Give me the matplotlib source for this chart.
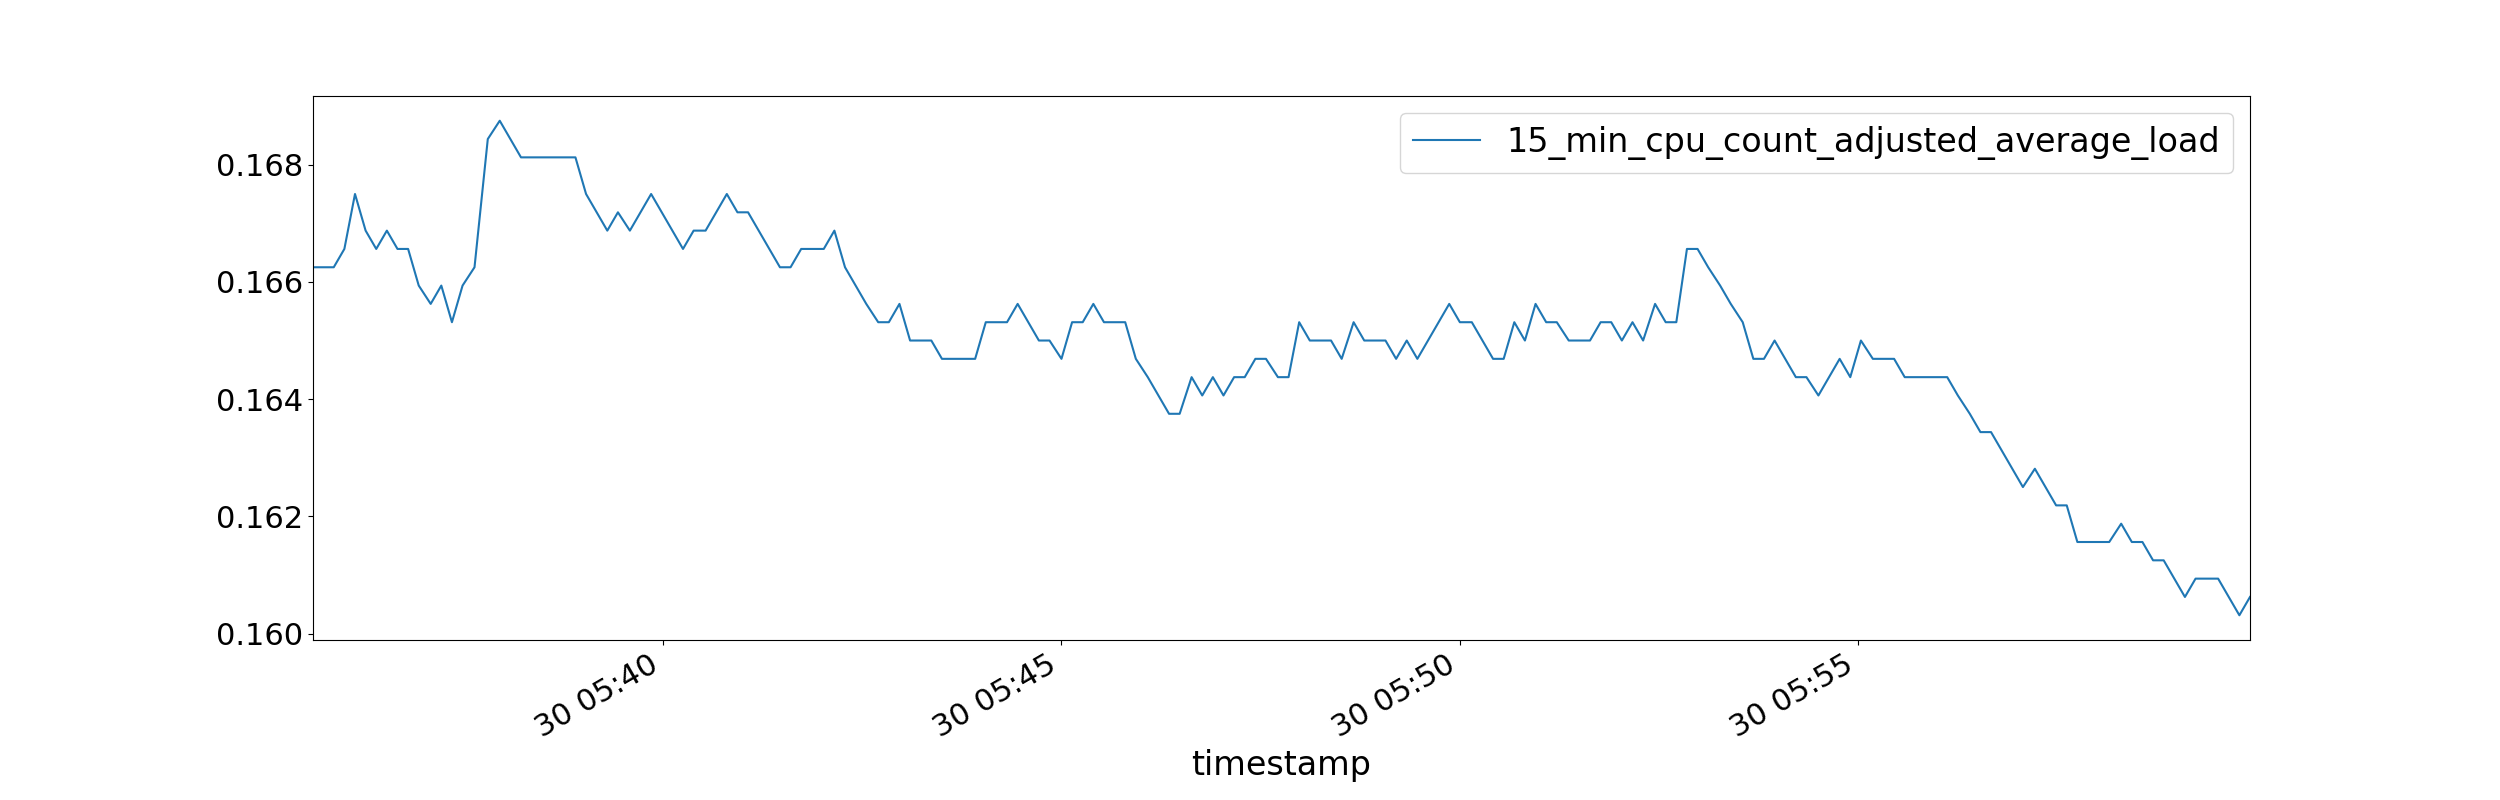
"""
Carga media de 15 min ajustada por número de CPUs (32 núcleos).
Serie leída de la captura de referencia: ~8 s entre muestras.
"""

import numpy as np
import pandas as pd
import matplotlib
matplotlib.use("Agg")
import matplotlib.pyplot as plt

# ---------------------------------------------------------------------------
# Datos
# ---------------------------------------------------------------------------
START = "2021-03-30 05:35:36"
CPU_COUNT = 32
SERIES_NAME = "15_min_cpu_count_adjusted_average_load"

# segundos desde START
ELAPSED_S = [
    0, 8, 16, 24, 32, 40, 48, 56, 64, 72,
    80, 89, 97, 105, 113, 122, 132, 141, 149, 157,
    165, 173, 181, 189, 198, 206, 214, 222, 230, 239,
    247, 255, 263, 271, 279, 287, 296, 304, 312, 320,
    328, 336, 344, 352, 360, 368, 377, 385, 393, 401,
    409, 417, 426, 434, 442, 450, 458, 466, 474, 482,
    490, 499, 507, 515, 523, 531, 539, 547, 555, 564,
    572, 580, 588, 596, 604, 612, 620, 629, 637, 645,
    653, 662, 670, 678, 686, 694, 702, 710, 718, 727,
    735, 743, 751, 759, 767, 775, 784, 792, 800, 808,
    816, 824, 832, 840, 848, 856, 864, 873, 881, 889,
    897, 905, 913, 921, 929, 937, 946, 954, 962, 970,
    978, 986, 994, 1002, 1011, 1019, 1027, 1035, 1043, 1051,
    1060, 1068, 1077, 1085, 1093, 1101, 1109, 1117, 1125, 1134,
    1142, 1150, 1158, 1166, 1175, 1183, 1191, 1199, 1207, 1215,
    1223, 1231, 1239, 1248, 1256, 1264, 1272, 1280, 1288, 1297,
    1305, 1313, 1321, 1329, 1337, 1345, 1353, 1362, 1370, 1378,
    1386, 1394, 1402, 1410, 1418, 1426, 1435, 1443, 1451, 1459,
]

# load average 15 min (sin ajustar)
LOAD_15 = [
    5.32, 5.32, 5.32, 5.33, 5.36, 5.34, 5.33, 5.34, 5.33, 5.33,
    5.31, 5.30, 5.31, 5.29, 5.31, 5.32, 5.39, 5.40, 5.39, 5.38,
    5.38, 5.38, 5.38, 5.38, 5.38, 5.36, 5.35, 5.34, 5.35, 5.34,
    5.35, 5.36, 5.35, 5.34, 5.33, 5.34, 5.34, 5.35, 5.36, 5.35,
    5.35, 5.34, 5.33, 5.32, 5.32, 5.33, 5.33, 5.33, 5.34, 5.32,
    5.31, 5.30, 5.29, 5.29, 5.30, 5.28, 5.28, 5.28, 5.27, 5.27,
    5.27, 5.27, 5.29, 5.29, 5.29, 5.30, 5.29, 5.28, 5.28, 5.27,
    5.29, 5.29, 5.30, 5.29, 5.29, 5.29, 5.27, 5.26, 5.25, 5.24,
    5.24, 5.26, 5.25, 5.26, 5.25, 5.26, 5.26, 5.27, 5.27, 5.26,
    5.26, 5.29, 5.28, 5.28, 5.28, 5.27, 5.29, 5.28, 5.28, 5.28,
    5.27, 5.28, 5.27, 5.28, 5.29, 5.30, 5.29, 5.29, 5.28, 5.27,
    5.27, 5.29, 5.28, 5.30, 5.29, 5.29, 5.28, 5.28, 5.28, 5.29,
    5.29, 5.28, 5.29, 5.28, 5.30, 5.29, 5.29, 5.33, 5.33, 5.32,
    5.31, 5.30, 5.29, 5.27, 5.27, 5.28, 5.27, 5.26, 5.26, 5.25,
    5.26, 5.27, 5.26, 5.28, 5.27, 5.27, 5.27, 5.26, 5.26, 5.26,
    5.26, 5.26, 5.25, 5.24, 5.23, 5.23, 5.22, 5.21, 5.20, 5.21,
    5.20, 5.19, 5.19, 5.17, 5.17, 5.17, 5.17, 5.18, 5.17, 5.17,
    5.16, 5.16, 5.15, 5.14, 5.15, 5.15, 5.15, 5.14, 5.13, 5.14,
]

# ---------------------------------------------------------------------------
# Serie
# ---------------------------------------------------------------------------
timestamps = pd.Timestamp(START) + pd.to_timedelta(ELAPSED_S, unit="s")
df = pd.DataFrame({SERIES_NAME: np.array(LOAD_15) / CPU_COUNT},
                  index=pd.Index(timestamps, name="timestamp"))

# ---------------------------------------------------------------------------
# Gráfico
# ---------------------------------------------------------------------------
fig, ax = plt.subplots(figsize=(25, 8), dpi=100)
x = df.index.to_pydatetime()
ax.plot(x, df[SERIES_NAME], color="#1f77b4", lw=1.5, label=SERIES_NAME)
ax.set_xlim(x[0], x[-1])

ax.set_xlabel("timestamp", fontsize=24)
ax.tick_params(axis="both", labelsize=22)
ax.legend(loc="upper right", fontsize=24)
fig.autofmt_xdate()

fig.savefig("out.png", dpi=100, facecolor="white")
print("ok out.png")
